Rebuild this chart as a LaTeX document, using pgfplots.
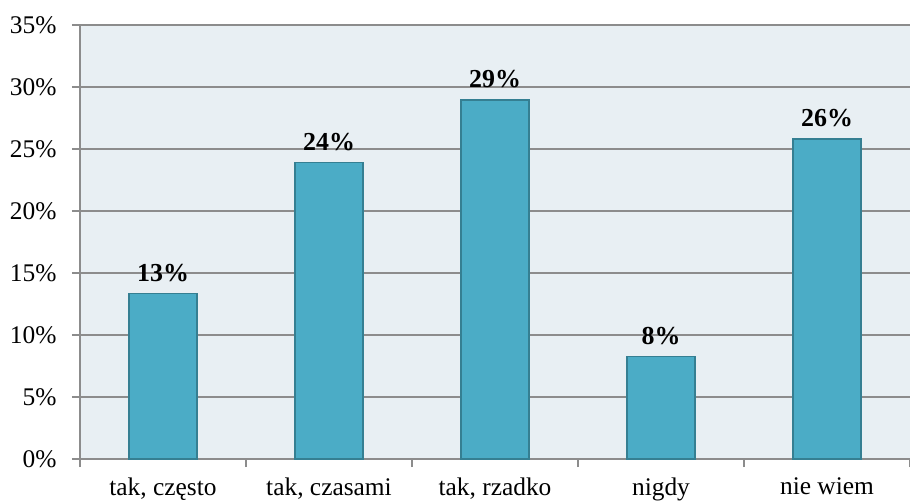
\documentclass[border=0pt]{standalone}
\usepackage{fontspec}
\setmainfont{Liberation Serif}
\usepackage{pgfplots}
\pgfplotsset{compat=1.18}
\definecolor{bgcol}{HTML}{E8EFF3}
\definecolor{barcol}{HTML}{4BACC6}
\definecolor{barline}{HTML}{357F92}
\definecolor{gridcol}{HTML}{8C8C8C}
\begin{document}
\begin{tikzpicture}
\begin{axis}[
  scale only axis,
  width=830bp, height=434bp,
  xmin=-0.5, xmax=4.5, ymin=0, ymax=35,
  axis background/.style={fill=bgcol},
  axis x line*=bottom, axis y line*=left,
  axis line style={gridcol, line width=1.3bp},
  ytick={0,5,...,35},
  yticklabel={\pgfmathprintnumber{\tick}\%},
  ymajorgrids,
  major grid style={gridcol, line width=1.3bp},
  ytick style={gridcol, line width=1.3bp},
  tick align=outside,
  major tick length=8bp,
  xtick={0,1,2,3,4},
  xticklabels={{tak, często},{tak, czasami},{tak, rzadko},{nigdy},{nie wiem}},
  x tick style={draw=none},
  minor xtick={-0.5,0.5,1.5,2.5,3.5,4.5},
  minor x tick style={gridcol, line width=1.3bp, draw=gridcol},
  minor tick length=8bp,
  tick label style={font=\fontsize{25.5}{28}\selectfont},
  xticklabel style={yshift=-7bp},
  yticklabel style={xshift=-12bp},
  /pgf/number format/assume math mode=true,
  ybar, bar width=68bp,
  nodes near coords={\pgfmathprintnumber[fixed,precision=0]{\pgfplotspointmeta}\%},
  nodes near coords style={font=\bfseries\fontsize{26}{28}\selectfont, anchor=south, yshift=8bp},
  clip=false,
]
\addplot[fill=barcol, draw=barline, line width=1.3bp] coordinates {
  (0,13.35) (1,23.9) (2,28.95) (3,8.25) (4,25.8)
};
\end{axis}
\pgfresetboundingbox
\path ([shift={(-80bp,-43bp)}]current axis.south west) rectangle ([shift={(0bp,25bp)}]current axis.north east);
\end{tikzpicture}
\end{document}
